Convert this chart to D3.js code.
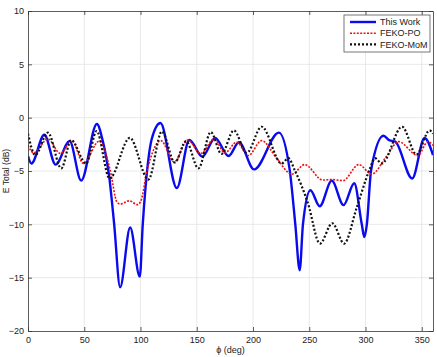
<!DOCTYPE html>
<html>
<head>
<meta charset="utf-8">
<script src="https://cdn.jsdelivr.net/npm/d3@7"></script>
<style>
  html, body { margin: 0; padding: 0; background: #fff; }
  svg { display: block; font-family: "Liberation Sans", Arial, sans-serif; }
</style>
</head>
<body>
<svg id="chart" width="437" height="357"></svg>
<script>
// ---- data ----
const xTicks = [0, 50, 100, 150, 200, 250, 300, 350];
const yTicks = [-20, -15, -10, -5, 0, 5, 10];
const seriesNames = ["This Work", "FEKO-PO", "FEKO-MoM"];

// This Work: [phi (deg), E total (dB)]
const thisWork = [
  [0,-3.6],[3,-4.3],[14.5,-1.6],[24.5,-4.4],[37,-2.2],[47.3,-5.9],[61.2,-0.6],
  [66.5,-2.2],[72.5,-5.8],[76.6,-10],[81.9,-15.9],[90.8,-10.3],[99.4,-14.9],
  [102,-10],[104.5,-6.5],[110,-2.0],[117.7,-0.5],[132.3,-6.6],[143.4,-2.1],
  [155,-3.65],[166.3,-1.9],[178.3,-3.6],[187.5,-2.3],[201,-4.85],[223,-1.4],
  [232.6,-4.9],[237.6,-10],[241.5,-14.3],[244.4,-10],[251,-6.8],[259.3,-8.3],
  [270,-5.9],[280.5,-8.2],[290,-6.15],[296.7,-10],[299,-11.2],[301.2,-10],
  [305,-4.9],[316,-1.7],[321,-2.1],[326.5,-2.25],[341.5,-5.7],[352.5,-1.9],[360,-3.5]
];
// FEKO-PO
const fekoPO = [
  [0,-2.6],[5,-3.3],[17.7,-2.0],[28.7,-3.35],[39,-2.15],[49.4,-4.3],[63.3,-2.2],
  [73,-4.9],[79,-7.9],[82,-8.1],[90,-7.8],[97.3,-8.15],[100,-7.9],[106,-4.9],
  [118,-2.15],[130,-4.15],[142,-2.1],[153.5,-3.35],[165.5,-2.0],[175,-3.3],
  [185.5,-2.3],[195.8,-3.55],[207.7,-2.15],[221,-3.8],[234.5,-5.3],[246,-4.4],
  [262,-5.85],[270,-5.8],[280,-5.9],[294,-4.4],[305.5,-5.3],[318.5,-3.65],
  [329.5,-2.25],[346.5,-3.55],[355.5,-2.25],[360,-2.6]
];
// FEKO-MoM
const fekoMoM = [
  [0,-1.5],[6.5,-3.5],[17.7,-1.4],[29.6,-4.75],[38.4,-2.1],[51.7,-4.3],[61,-1.25],
  [72.5,-5.7],[90.5,-1.9],[107,-5.8],[119,-1.3],[130.5,-4.2],[140.5,-2.2],
  [151.5,-4.75],[162.5,-1.35],[172,-3.4],[183,-1.2],[194.4,-3.3],[207.7,-0.85],
  [225.4,-4.3],[231.5,-3.8],[237,-4.9],[248.8,-8.0],[259.5,-11.8],[270.5,-9.9],
  [281,-11.8],[292,-8.5],[303.5,-4.9],[308.5,-3.8],[314.5,-4.3],[332.5,-0.85],
  [345.3,-3.45],[357,-1.2],[360,-1.5]
];

// ---- layout ----
const W = 437, H = 357;
const m = { left: 28, right: 4, top: 11, bottom: 26 };
const pw = W - m.left - m.right, ph = H - m.top - m.bottom;

const svg = d3.select("#chart");
const x = d3.scaleLinear().domain([0, 360]).range([m.left, m.left + pw]);
const y = d3.scaleLinear().domain([-20, 10]).range([m.top + ph, m.top]);

// plot background
svg.append("rect").attr("x", m.left).attr("y", m.top).attr("width", pw).attr("height", ph)
  .attr("fill", "#fff");

// grid
const grid = svg.append("g");
grid.selectAll("line.gx").data(xTicks.filter(d => d > 0)).join("line")
  .attr("x1", d => x(d)).attr("x2", d => x(d)).attr("y1", m.top).attr("y2", m.top + ph)
  .attr("stroke", "#e3e3e3").attr("stroke-width", 0.8);
grid.selectAll("line.gy").data(yTicks.filter(d => d > -20 && d < 10)).join("line")
  .attr("y1", d => y(d)).attr("y2", d => y(d)).attr("x1", m.left).attr("x2", m.left + pw)
  .attr("stroke", "#e3e3e3").attr("stroke-width", 0.8);

// curves
const line = d3.line().x(d => x(d[0])).y(d => y(d[1])).curve(d3.curveMonotoneX);
const clip = svg.append("clipPath").attr("id", "clip").append("rect")
  .attr("x", m.left).attr("y", m.top).attr("width", pw).attr("height", ph);
const plot = svg.append("g").attr("clip-path", "url(#clip)");

const styles = [
  { data: thisWork, color: "#0a0aee", width: 2.4, dash: null },
  { data: fekoPO, color: "#ee1111", width: 1.6, dash: "2,1.4" },
  { data: fekoMoM, color: "#111", width: 2.2, dash: "2,2" }
];
styles.forEach(s => {
  plot.append("path").datum(s.data).attr("d", line)
    .attr("fill", "none").attr("stroke", s.color).attr("stroke-width", s.width)
    .attr("stroke-dasharray", s.dash).attr("stroke-linejoin", "round");
});

// axes
const axisColor = "#333";
const fs = 9;
const axB = svg.append("g").attr("transform", `translate(0,${m.top + ph})`)
  .call(d3.axisBottom(x).tickValues(xTicks).tickSizeInner(-4).tickSizeOuter(0).tickPadding(6));
const axT = svg.append("g").attr("transform", `translate(0,${m.top})`)
  .call(d3.axisTop(x).tickValues(xTicks).tickSizeInner(-4).tickSizeOuter(0).tickFormat(""));
const axL = svg.append("g").attr("transform", `translate(${m.left},0)`)
  .call(d3.axisLeft(y).tickValues(yTicks).tickSizeInner(-4).tickSizeOuter(0).tickPadding(4));
const axR = svg.append("g").attr("transform", `translate(${m.left + pw},0)`)
  .call(d3.axisRight(y).tickValues(yTicks).tickSizeInner(-4).tickSizeOuter(0).tickFormat(""));
[axB, axT, axL, axR].forEach(a => {
  a.select(".domain").attr("stroke", axisColor).attr("stroke-width", 0.8);
  a.selectAll(".tick line").attr("stroke", axisColor).attr("stroke-width", 0.8);
  a.selectAll("text").attr("font-size", fs).attr("fill", "#222")
    .attr("font-family", "'Liberation Sans', Arial, sans-serif");
});

// axis labels
svg.append("text").attr("x", x(180)).attr("y", 353).attr("text-anchor", "middle")
  .attr("font-size", 9).attr("fill", "#222").text("ϕ (deg)");
svg.append("text").attr("transform", `translate(9,${m.top + ph / 2}) rotate(-90)`)
  .attr("text-anchor", "middle").attr("font-size", 8.5).attr("fill", "#222").text("E Total (dB)");

// legend
const lg = svg.append("g");
lg.append("rect").attr("x", 344).attr("y", 15).attr("width", 86).attr("height", 37)
  .attr("fill", "#fff").attr("stroke", "#555").attr("stroke-width", 0.8);
styles.forEach((s, i) => {
  const yy = 22 + i * 11.2;
  lg.append("line").attr("x1", 350).attr("x2", 376).attr("y1", yy).attr("y2", yy)
    .attr("stroke", s.color).attr("stroke-width", s.width).attr("stroke-dasharray", s.dash);
  lg.append("text").attr("x", 380).attr("y", yy + 3.2).attr("font-size", 9)
    .attr("fill", "#222").text(seriesNames[i]);
});
</script>
</body>
</html>
